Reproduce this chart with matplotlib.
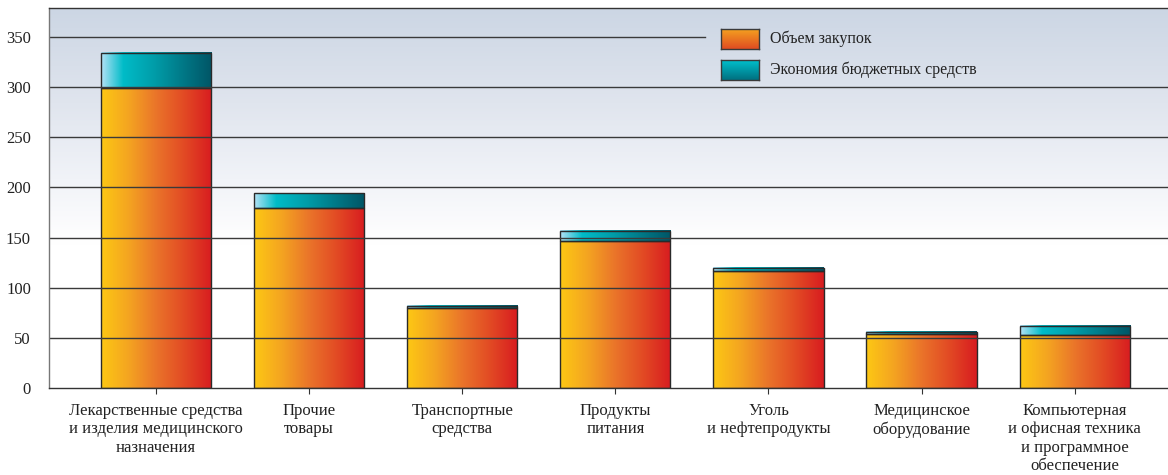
import numpy as np
import matplotlib
matplotlib.use("Agg")
import matplotlib.pyplot as plt
from matplotlib.colors import LinearSegmentedColormap
from matplotlib.patches import Rectangle

plt.rcParams['font.family'] = ['Liberation Serif', 'DejaVu Serif']

categories = [
    "Лекарственные средства\nи изделия медицинского\nназначения",
    "Прочие\nтовары",
    "Транспортные\nсредства",
    "Продукты\nпитания",
    "Уголь\nи нефтепродукты",
    "Медицинское\nоборудование",
    "Компьютерная\nи офисная техника\nи программное\nобеспечение",
]
purchases = [299, 180, 80, 147, 117, 54, 53]
savings = [35, 14, 2, 10, 3, 2, 9]
yticks = [0, 50, 100, 150, 200, 250, 300, 350]
legend_labels = ["Объем закупок", "Экономия бюджетных средств"]

orange = LinearSegmentedColormap.from_list(
    "orange", ["#fdc814", "#f4a421", "#ea742a", "#e24a24", "#d81c20"])
teal = LinearSegmentedColormap.from_list(
    "teal", [(0, "#b4e2f6"), (0.2, "#00bcc8"), (0.5, "#009aa6"),
             (0.8, "#00707f"), (1, "#005566")])
bg = LinearSegmentedColormap.from_list(
    "bg", [(0, "#ffffff"), (0.38, "#ffffff"), (0.55, "#f1f3f8"),
           (0.75, "#e0e5ee"), (1, "#ccd6e4")])

fig = plt.figure(figsize=(11.68, 4.75), dpi=100)
ax = fig.add_axes([49 / 1168, 1 - 388 / 475, 1 - 49 / 1168, 380 / 475])

xmin, xmax = -0.70, 6.61
ymin, ymax = 0, 379
grad = np.linspace(0, 1, 256).reshape(-1, 1)
ax.imshow(grad, cmap=bg, origin="lower", aspect="auto",
          extent=(xmin, xmax, ymin, ymax), zorder=0)

hgrad = np.linspace(0, 1, 256).reshape(1, -1)
width = 0.72
for i, (p, s) in enumerate(zip(purchases, savings)):
    x0, x1 = i - width / 2, i + width / 2
    ax.imshow(hgrad, cmap=orange, aspect="auto",
              extent=(x0, x1, 0, p), zorder=2)
    ax.imshow(hgrad, cmap=teal, aspect="auto",
              extent=(x0, x1, p, p + s), zorder=2)
    ax.add_patch(Rectangle((x0, 0), width, p, fill=False,
                           edgecolor="#2a2a2a", lw=1, zorder=3))
    ax.add_patch(Rectangle((x0, p), width, s, fill=False,
                           edgecolor="#2a2a2a", lw=1, zorder=3))

# grid lines; the 350 line stops at the legend
for t in yticks[1:]:
    xm = (705 - 49) / (1168 - 49) if t == 350 else 1
    ax.axhline(t, xmax=xm, color="#3a3a3a", lw=1, zorder=4)

ax.set_xlim(xmin, xmax)
ax.set_ylim(ymin, ymax)
ax.set_yticks(yticks)
ax.set_xticks(range(len(categories)))
ax.set_xticklabels(categories, fontsize=12, color="#222222", linespacing=1.18)
ax.tick_params(axis="y", length=0, pad=13, labelsize=12, labelcolor="#222222")
ax.tick_params(axis="x", length=4, direction="out", color="#333333", pad=7)
ax.spines["right"].set_visible(False)
ax.spines["left"].set_color("#777777")
ax.spines["top"].set_color("#333333")
ax.spines["bottom"].set_color("#333333")
for sp in ax.spines.values():
    sp.set_linewidth(1)
    sp.set_zorder(5)

# legend
vgrad = np.linspace(0, 1, 64).reshape(-1, 1)
leg_o = LinearSegmentedColormap.from_list("lo", ["#e04c22", "#f4a020"])
leg_t = LinearSegmentedColormap.from_list("lt", ["#007080", "#00c0cc"])
for k, (cm, top) in enumerate([(leg_o, 29), (leg_t, 60)]):
    sw = fig.add_axes([721 / 1168, 1 - (top + 20) / 475, 38 / 1168, 20 / 475])
    sw.imshow(vgrad, cmap=cm, origin="lower", aspect="auto")
    sw.set_xticks([])
    sw.set_yticks([])
    for sp in sw.spines.values():
        sp.set_color("#3a3a3a")
        sp.set_linewidth(1)
    fig.text(770 / 1168, 1 - (top + 10) / 475, legend_labels[k],
             fontsize=11.5, color="#222222", va="center", ha="left")

fig.savefig("out.png", dpi=100)
